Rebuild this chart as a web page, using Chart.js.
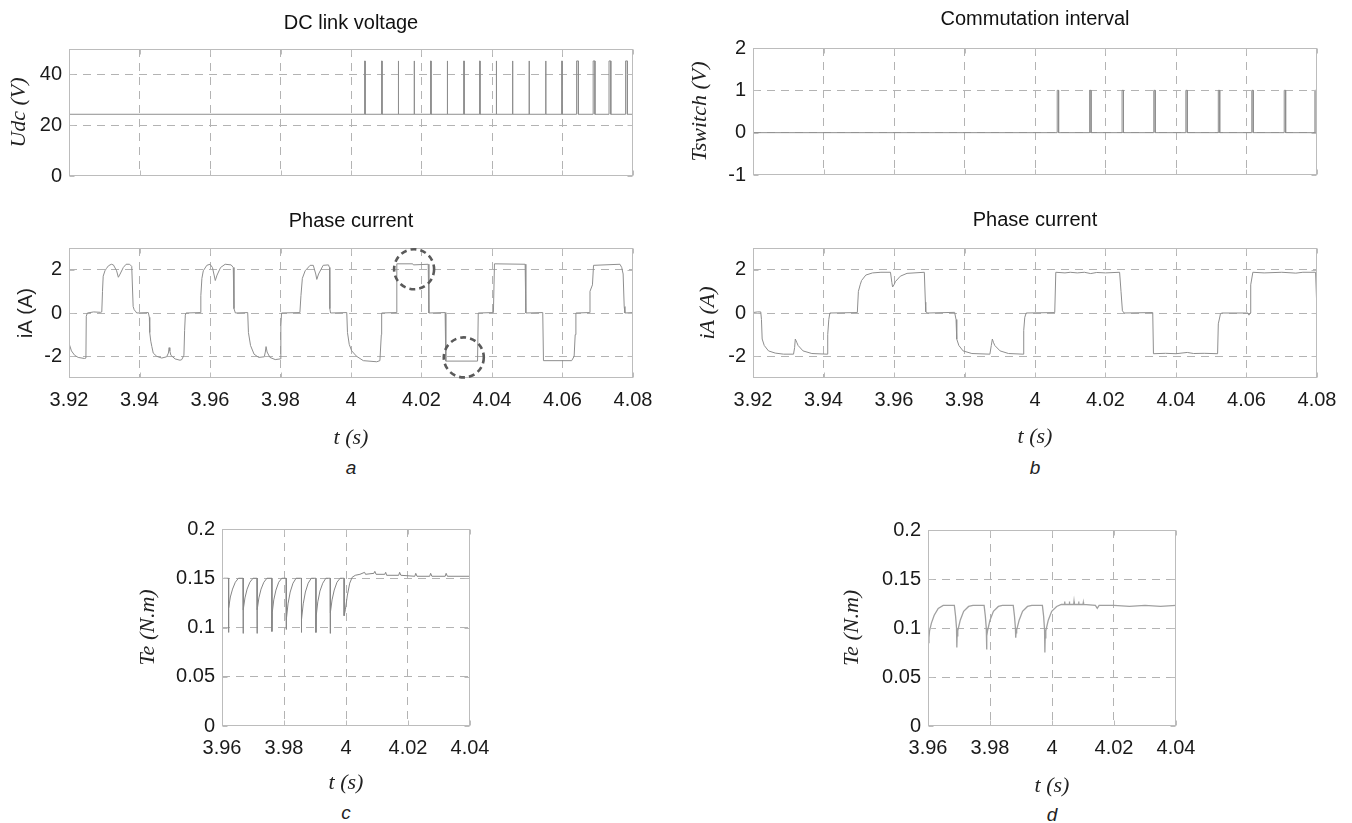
<!DOCTYPE html>
<html>
<head>
<meta charset="utf-8">
<script src="https://cdn.jsdelivr.net/npm/chart.js@4.4.0/dist/chart.umd.min.js"></script>
<style>
  body { margin: 0; background: #fff; }
  #fig { position: relative; width: 1352px; height: 823px; overflow: hidden; font-family: Arial, "Liberation Sans", sans-serif; }
  canvas { position: absolute; }
  .ttl { position: absolute; transform: translate(-50%, -50%); font-size: 20px; color: #111; white-space: nowrap; }
  .sub { position: absolute; transform: translate(-50%, -50%); font-size: 19px; font-style: italic; color: #222; }
</style>
</head>
<body>
<div id="fig">
  <canvas id="udc"></canvas>
  <canvas id="ia1"></canvas>
  <canvas id="tsw"></canvas>
  <canvas id="ia2"></canvas>
  <canvas id="te1"></canvas>
  <canvas id="te2"></canvas>
  <div class="ttl" style="left:351px;top:22px">DC link voltage</div>
  <div class="ttl" style="left:351px;top:220px">Phase current</div>
  <div class="ttl" style="left:1035px;top:18px">Commutation interval</div>
  <div class="ttl" style="left:1035px;top:219px">Phase current</div>
  <div class="sub" style="left:351px;top:468px">a</div>
  <div class="sub" style="left:1035px;top:468px">b</div>
  <div class="sub" style="left:346px;top:813px">c</div>
  <div class="sub" style="left:1052px;top:815px">d</div>
</div>
<script>
// tick labels
const tTicksWide = [3.92, 3.94, 3.96, 3.98, 4, 4.02, 4.04, 4.06, 4.08];
const tTicksNarrow = [3.96, 3.98, 4, 4.02, 4.04];
const udcTicks = [0, 20, 40];
const tswTicks = [-1, 0, 1, 2];
const iaTicks = [-2, 0, 2];
const teTicks = [0, 0.05, 0.1, 0.15, 0.2];

// DC link voltage: base level, spike top, spike [time, width]
const udcBase = 24.3;
const udcTop = 45.3;
const udcSpikes = [
  [4.0039, 0.0001], [4.0087, 0.0001], [4.0134, 0.0001], [4.0179, 0.0001],
  [4.0226, 0.0001], [4.0273, 0.0001], [4.0320, 0.0001], [4.0365, 0.0001],
  [4.0412, 0.0001], [4.0458, 0.0001], [4.0505, 0.0001], [4.0552, 0.0001],
  [4.0598, 0.0001], [4.0640, 0.0005], [4.0687, 0.0005], [4.0732, 0.0005],
  [4.0779, 0.0005]
];

// commutation interval pulses [time, width], level 0 -> 1
const tswPulses = [
  [4.0063, 0.0004], [4.0155, 0.0004], [4.0247, 0.0004], [4.0337, 0.0004],
  [4.0428, 0.0004], [4.0520, 0.0004], [4.0615, 0.0004], [4.0707, 0.0004],
  [4.0794, 0.0004]
];

// phase current, panel a [t, iA]
const iaA = [
  [3.9200, -1.40], [3.9207, -1.75], [3.9216, -1.95], [3.9226, -2.05], [3.9244, -2.10],
  [3.9248, -2.08], [3.9249, -0.15], [3.9252, 0.00], [3.9270, 0.05], [3.9290, 0.03],
  [3.9293, 0.05], [3.9295, 1.00], [3.9297, 1.70], [3.9302, 1.95], [3.9306, 2.05],
  [3.9312, 2.18], [3.9320, 2.25], [3.9326, 2.22], [3.9335, 1.95], [3.9340, 1.65],
  [3.9345, 1.80], [3.9354, 2.10], [3.9362, 2.25], [3.9372, 2.25], [3.9378, 2.15],
  [3.9380, 1.20], [3.9382, 0.30], [3.9385, 0.15], [3.9390, 0.05], [3.9392, 0.00],
  [3.9425, 0.02], [3.9428, -0.20], [3.9429, -0.90], [3.9432, -1.30], [3.9435, -1.55],
  [3.9439, -1.85], [3.9449, -2.00], [3.9463, -2.08], [3.9477, -2.02], [3.9482, -1.85],
  [3.9484, -1.60], [3.9486, -1.75], [3.9489, -1.95], [3.9501, -2.12], [3.9515, -2.18],
  [3.9520, -2.15], [3.9526, -1.95], [3.9528, -0.80], [3.9530, -0.10], [3.9532, 0.00],
  [3.9572, 0.02], [3.9574, 0.80], [3.9577, 1.60], [3.9581, 1.95], [3.9591, 2.20],
  [3.9600, 2.25], [3.9607, 2.10], [3.9615, 1.50], [3.9620, 1.75], [3.9630, 2.10],
  [3.9643, 2.25], [3.9660, 2.22], [3.9666, 2.10], [3.9668, 0.20], [3.9672, 0.00],
  [3.9707, 0.02], [3.9709, -0.90], [3.9715, -1.50], [3.9725, -1.90], [3.9738, -2.05],
  [3.9754, -2.02], [3.9757, -1.80], [3.9759, -1.55], [3.9762, -1.80], [3.9770, -2.05],
  [3.9785, -2.15], [3.9799, -2.12], [3.9801, -0.60], [3.9803, 0.00], [3.9855, 0.02],
  [3.9858, 0.80], [3.9862, 1.60], [3.9870, 1.95], [3.9884, 2.20], [3.9893, 2.20],
  [3.9900, 1.80], [3.9903, 1.55], [3.9908, 1.80], [3.9921, 2.20], [3.9936, 2.22],
  [3.9939, 2.10], [3.9940, 0.20], [3.9942, 0.00], [3.9988, 0.02], [3.9990, -0.90],
  [3.9995, -1.45], [4.0002, -1.75], [4.0016, -2.00], [4.0035, -2.20], [4.0073, -2.25],
  [4.0082, -2.20], [4.0086, -1.00], [4.0087, 0.00], [4.0128, 0.02], [4.0130, 2.27],
  [4.0175, 2.27], [4.0177, 2.22], [4.0219, 2.25], [4.0221, 0.00], [4.0267, 0.02],
  [4.0269, -2.22], [4.0359, -2.22], [4.0361, 0.00], [4.0404, 0.02], [4.0407, 2.27],
  [4.0494, 2.25], [4.0496, 0.00], [4.0544, 0.02], [4.0546, -2.20], [4.0626, -2.20],
  [4.0633, -2.00], [4.0636, -1.00], [4.0638, 0.00], [4.0676, 0.02], [4.0678, 1.00],
  [4.0685, 1.30], [4.0688, 2.20], [4.0763, 2.25], [4.0768, 2.10], [4.0772, 1.80],
  [4.0775, 0.30], [4.0777, 0.00], [4.0800, 0.02]
];
// dashed circles on panel a [t, iA]
const iaCircles = [[4.0179, 2.02], [4.0320, -2.05]];

// phase current, panel b [t, iA]
const iaB = [
  [3.9200, 0.02], [3.9213, 0.05], [3.9222, 0.05], [3.9224, -0.30], [3.9226, -1.20],
  [3.9232, -1.50], [3.9244, -1.75], [3.9263, -1.85], [3.9287, -1.90], [3.9315, -1.90],
  [3.9318, -1.60], [3.9320, -1.20], [3.9324, -1.35], [3.9328, -1.50], [3.9342, -1.75],
  [3.9367, -1.87], [3.9410, -1.90], [3.9412, -1.00], [3.9415, -0.30], [3.9418, 0.00],
  [3.9496, 0.02], [3.9499, 1.00], [3.9504, 1.30], [3.9508, 1.50], [3.9520, 1.75],
  [3.9539, 1.85], [3.9563, 1.88], [3.9590, 1.88], [3.9594, 1.40], [3.9596, 1.20],
  [3.9600, 1.30], [3.9604, 1.45], [3.9618, 1.70], [3.9637, 1.83], [3.9686, 1.88],
  [3.9689, 0.50], [3.9690, 0.05], [3.9696, 0.00], [3.9772, 0.03], [3.9776, -0.30],
  [3.9778, -1.20], [3.9784, -1.50], [3.9796, -1.75], [3.9821, -1.87], [3.9872, -1.90],
  [3.9876, -1.50], [3.9879, -1.20], [3.9882, -1.35], [3.9886, -1.50], [3.9901, -1.75],
  [3.9925, -1.87], [3.9966, -1.90], [3.9968, -0.80], [3.9971, -0.20], [3.9975, 0.00],
  [4.0056, 0.02], [4.0059, 1.88], [4.0085, 1.85], [4.0100, 1.88], [4.0120, 1.85],
  [4.0140, 1.88], [4.0158, 1.82], [4.0175, 1.87], [4.0200, 1.85], [4.0240, 1.88],
  [4.0244, 1.00], [4.0248, 0.10], [4.0253, 0.00], [4.0334, 0.02], [4.0336, -1.88],
  [4.0370, -1.86], [4.0400, -1.88], [4.0432, -1.82], [4.0450, -1.87], [4.0480, -1.86],
  [4.0518, -1.88], [4.0520, -0.50], [4.0526, -0.05], [4.0529, 0.00], [4.0604, 0.00],
  [4.0607, -0.10], [4.0610, 0.00], [4.0612, 1.30], [4.0618, 1.88], [4.0650, 1.85],
  [4.0700, 1.88], [4.0740, 1.84], [4.0760, 1.88], [4.0796, 1.88], [4.0800, 0.00]
];

// electromagnetic torque, panel c [t, Te]
const teC = [
  [3.9600, 0.149], [3.9606, 0.150], [3.9621, 0.150], [3.9621, 0.095], [3.9622, 0.120],
  [3.9627, 0.131], [3.9634, 0.139], [3.9643, 0.146], [3.9653, 0.150], [3.9668, 0.150],
  [3.9668, 0.094], [3.9669, 0.118], [3.9674, 0.130], [3.9681, 0.139], [3.9690, 0.146],
  [3.9700, 0.150], [3.9713, 0.150], [3.9713, 0.094], [3.9714, 0.118], [3.9719, 0.130],
  [3.9726, 0.139], [3.9735, 0.146], [3.9745, 0.150], [3.9761, 0.150], [3.9761, 0.096],
  [3.9762, 0.115], [3.9767, 0.128], [3.9774, 0.138], [3.9783, 0.146], [3.9793, 0.150],
  [3.9807, 0.150], [3.9807, 0.098], [3.9808, 0.108], [3.9813, 0.124], [3.9820, 0.136],
  [3.9829, 0.145], [3.9839, 0.150], [3.9856, 0.150], [3.9856, 0.095], [3.9857, 0.108],
  [3.9862, 0.124], [3.9869, 0.136], [3.9878, 0.145], [3.9888, 0.150], [3.9903, 0.150],
  [3.9903, 0.095], [3.9904, 0.112], [3.9909, 0.126], [3.9916, 0.137], [3.9925, 0.145],
  [3.9935, 0.150], [3.9949, 0.150], [3.9949, 0.094], [3.9950, 0.115], [3.9955, 0.128],
  [3.9962, 0.138], [3.9971, 0.146], [3.9981, 0.150], [3.9994, 0.150], [3.9994, 0.112],
  [3.9998, 0.118], [4.0004, 0.132], [4.0012, 0.145], [4.0020, 0.151], [4.0030, 0.153],
  [4.0045, 0.154], [4.0060, 0.156], [4.0063, 0.154], [4.0090, 0.155], [4.0093, 0.157],
  [4.0097, 0.154], [4.0125, 0.154], [4.0128, 0.156], [4.0131, 0.153], [4.0170, 0.153],
  [4.0173, 0.156], [4.0177, 0.153], [4.0222, 0.152], [4.0225, 0.155], [4.0229, 0.152],
  [4.0270, 0.152], [4.0273, 0.155], [4.0277, 0.152], [4.0320, 0.152], [4.0323, 0.155],
  [4.0327, 0.152], [4.0400, 0.152]
];

// electromagnetic torque, panel d [t, Te]
const teD = [
  [3.9601, 0.085], [3.9603, 0.090], [3.9605, 0.097], [3.9611, 0.105], [3.9620, 0.113],
  [3.9633, 0.120], [3.9649, 0.123], [3.9685, 0.123], [3.9689, 0.112], [3.9692, 0.100],
  [3.9693, 0.080], [3.9694, 0.092], [3.9696, 0.097], [3.9704, 0.108], [3.9715, 0.117],
  [3.9731, 0.122], [3.9745, 0.123], [3.9781, 0.123], [3.9785, 0.112], [3.9788, 0.100],
  [3.9789, 0.078], [3.9790, 0.092], [3.9792, 0.097], [3.9800, 0.108], [3.9811, 0.117],
  [3.9827, 0.122], [3.9840, 0.123], [3.9875, 0.123], [3.9879, 0.112], [3.9882, 0.100],
  [3.9883, 0.090], [3.9884, 0.095], [3.9886, 0.098], [3.9894, 0.108], [3.9905, 0.117],
  [3.9921, 0.122], [3.9935, 0.123], [3.9969, 0.123], [3.9973, 0.112], [3.9976, 0.098],
  [3.9977, 0.075], [3.9978, 0.090], [3.9980, 0.097], [3.9988, 0.108], [3.9999, 0.117],
  [4.0015, 0.122], [4.0030, 0.124], [4.0040, 0.124], [4.0041, 0.127], [4.0042, 0.124],
  [4.0055, 0.124], [4.0056, 0.127], [4.0057, 0.124], [4.0070, 0.124], [4.0071, 0.127],
  [4.0072, 0.124], [4.0085, 0.124], [4.0086, 0.127], [4.0087, 0.124], [4.0100, 0.124],
  [4.0101, 0.126], [4.0102, 0.124], [4.0140, 0.123], [4.0146, 0.120], [4.0152, 0.123],
  [4.0200, 0.123], [4.0250, 0.122], [4.0300, 0.123], [4.0350, 0.122], [4.0400, 0.123]
];

// ---- build the stepped series from the spike/pulse tables
function spikeSeries(t0, t1, base, top, spikes) {
  const out = [[t0, base]];
  spikes.forEach(s => {
    out.push([s[0], base], [s[0], top], [s[0] + s[1], top], [s[0] + s[1], base]);
  });
  out.push([t1, base]);
  return out;
}

const GRID = '#b3b3b3';
const BOX = '#bcbcbc';
const TRACE = '#8e8e8e';
const tickFont = { family: 'Arial, "Liberation Sans", sans-serif', size: 20 };
const serifItalic = { family: '"Liberation Serif", "Times New Roman", serif', size: 22, style: 'italic', lineHeight: 1 };
const sansTitle = { family: 'Arial, "Liberation Sans", sans-serif', size: 20, lineHeight: 1 };

function fmt(v) { return String(+Number(v).toFixed(2)); }

function noEdge(color) {
  return c => (c.tick && (c.tick.value === c.scale.min || c.tick.value === c.scale.max)) ? 'rgba(0,0,0,0)' : color;
}

// frame round the plot area, with short inward ticks
const boxPlugin = {
  id: 'box',
  afterDatasetsDraw(chart) {
    const { ctx, chartArea: a, scales } = chart;
    const L = a.left + 0.5, R = a.right - 0.5, T = a.top + 0.5, B = a.bottom - 0.5;
    ctx.save();
    ctx.strokeStyle = BOX;
    ctx.lineWidth = 1;
    ctx.beginPath();
    scales.x.ticks.forEach(tk => {
      const x = Math.round(scales.x.getPixelForValue(tk.value)) + 0.5;
      ctx.moveTo(x, B); ctx.lineTo(x, B - 5);
      ctx.moveTo(x, T); ctx.lineTo(x, T + 5);
    });
    scales.y.ticks.forEach(tk => {
      const y = Math.round(scales.y.getPixelForValue(tk.value)) + 0.5;
      ctx.moveTo(L, y); ctx.lineTo(L + 5, y);
      ctx.moveTo(R, y); ctx.lineTo(R - 5, y);
    });
    ctx.stroke();
    ctx.strokeRect(L, T, R - L, B - T);
    ctx.restore();
  }
};

// dashed circles marking the flat current segments
const markPlugin = {
  id: 'marks',
  afterDatasetsDraw(chart, args, opts) {
    const list = opts.list || [];
    if (!list.length) return;
    const { ctx, scales } = chart;
    ctx.save();
    ctx.strokeStyle = '#5a5a5a';
    ctx.lineWidth = 2.6;
    ctx.setLineDash([6, 4]);
    list.forEach(m => {
      ctx.beginPath();
      ctx.arc(scales.x.getPixelForValue(m[0]), scales.y.getPixelForValue(m[1]), 20, 0, Math.PI * 2);
      ctx.stroke();
    });
    ctx.restore();
  }
};

function makePanel(id, p) {
  const cv = document.getElementById(id);
  cv.width = p.m.l + p.box.w + p.m.r;
  cv.height = p.m.t + p.box.h + p.m.b;
  cv.style.left = (p.box.l - p.m.l) + 'px';
  cv.style.top = (p.box.t - p.m.t) + 'px';
  return new Chart(cv, {
    type: 'line',
    data: {
      datasets: [{
        data: p.data.map(q => ({ x: q[0], y: q[1] })),
        borderColor: p.color || TRACE,
        borderWidth: p.lw || 1,
        pointRadius: 0,
        tension: 0,
        fill: false
      }]
    },
    options: {
      responsive: false,
      animation: false,
      events: [],
      layout: { padding: { left: 0, top: p.m.t, right: p.m.r, bottom: 0 } },
      plugins: {
        legend: { display: false },
        tooltip: { enabled: false },
        marks: { list: p.circles || [] }
      },
      scales: {
        x: {
          type: 'linear',
          min: p.xTicks[0],
          max: p.xTicks[p.xTicks.length - 1],
          afterBuildTicks: s => { s.ticks = p.xTicks.map(v => ({ value: v })); },
          afterFit: s => { s.height = p.m.b; },
          grid: { color: noEdge(GRID), lineWidth: 1, drawTicks: false },
          border: { display: false, dash: [8, 6] },
          ticks: { display: p.xLabels, padding: 10, maxRotation: 0, autoSkip: false, font: tickFont, color: '#1a1a1a', callback: fmt },
          title: { display: p.xLabels, text: 't (s)', font: serifItalic, color: '#222', padding: { top: 0, bottom: 0 } }
        },
        y: {
          type: 'linear',
          min: p.yMin,
          max: p.yMax,
          afterBuildTicks: s => { s.ticks = p.yTicks.map(v => ({ value: v })); },
          afterFit: s => { s.width = p.m.l; },
          grid: { color: noEdge(GRID), lineWidth: 1, drawTicks: false },
          border: { display: false, dash: [8, 6] },
          ticks: { padding: 7, font: tickFont, color: '#1a1a1a', callback: fmt },
          title: { display: true, text: p.yTitle, font: p.yFont || serifItalic, color: '#222', padding: { top: p.yPad, bottom: 0 } }
        }
      }
    },
    plugins: [boxPlugin, markPlugin]
  });
}

makePanel('udc', {
  box: { l: 69, t: 44, w: 564, h: 135 }, m: { l: 69, t: 14, r: 30, b: 16 },
  xTicks: tTicksWide, xLabels: false, yMin: 0, yMax: 50, yTicks: udcTicks,
  yTitle: 'Udc (V)', yPad: 8,
  data: spikeSeries(3.92, 4.08, udcBase, udcTop, udcSpikes)
});

makePanel('ia1', {
  box: { l: 69, t: 243, w: 564, h: 135 }, m: { l: 69, t: 14, r: 30, b: 71 },
  xTicks: tTicksWide, xLabels: true, yMin: -3, yMax: 3, yTicks: iaTicks,
  yTitle: 'iA (A)', yFont: sansTitle, yPad: 16,
  data: iaA, circles: iaCircles
});

makePanel('tsw', {
  box: { l: 753, t: 43, w: 564, h: 135 }, m: { l: 73, t: 14, r: 30, b: 16 },
  xTicks: tTicksWide, xLabels: false, yMin: -1, yMax: 2, yTicks: tswTicks,
  yTitle: 'Tswitch (V)', yPad: 9,
  data: spikeSeries(3.92, 4.08, 0, 1, tswPulses)
});

makePanel('ia2', {
  box: { l: 753, t: 243, w: 564, h: 135 }, m: { l: 73, t: 14, r: 30, b: 70 },
  xTicks: tTicksWide, xLabels: true, yMin: -3, yMax: 3, yTicks: iaTicks,
  yTitle: 'iA (A)', yPad: 17,
  data: iaB
});

makePanel('te1', {
  box: { l: 222, t: 524, w: 248, h: 202 }, m: { l: 92, t: 14, r: 34, b: 68 },
  xTicks: tTicksNarrow, xLabels: true, yMin: 0, yMax: 0.2, yTicks: teTicks,
  yTitle: 'Te (N.m)', yPad: 7,
  data: teC, color: '#858585'
});

makePanel('te2', {
  box: { l: 928, t: 525, w: 248, h: 201 }, m: { l: 90, t: 14, r: 34, b: 71 },
  xTicks: tTicksNarrow, xLabels: true, yMin: 0, yMax: 0.2, yTicks: teTicks,
  yTitle: 'Te (N.m)', yPad: 3,
  data: teD, color: '#a0a0a0', lw: 1.3
});
</script>
</body>
</html>
